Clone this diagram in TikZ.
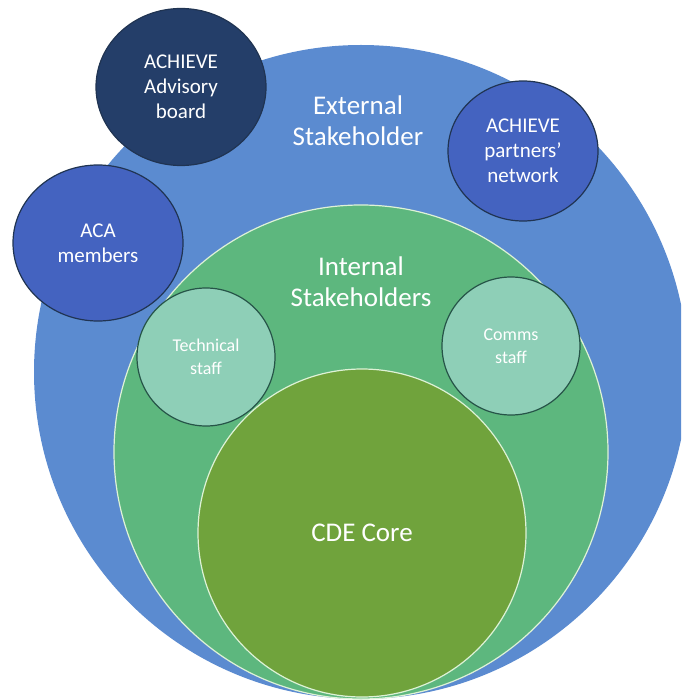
\documentclass[tikz,border=0pt]{standalone}
\usepackage{fontspec}
\setmainfont{Carlito}
\usetikzlibrary{shapes.geometric}

\definecolor{outerblue}{RGB}{91,139,208}
\definecolor{navy}{RGB}{36,62,105}
\definecolor{midblue}{RGB}{68,99,192}
\definecolor{innergreen}{RGB}{93,183,126}
\definecolor{coregreen}{RGB}{112,163,60}
\definecolor{paleteal}{RGB}{142,207,183}
\definecolor{darkrim}{RGB}{32,52,82}
\definecolor{tealrim}{RGB}{38,84,72}
\definecolor{lightrim}{RGB}{222,242,214}

\tikzset{
  ring/.style={circle, inner sep=0pt, line width=1.2pt},
  bubble/.style={ellipse, inner sep=0pt, draw=darkrim, line width=1.2pt,
    text=white, align=center, font=\fontsize{21}{25}\selectfont},
  staffbubble/.style={circle, inner sep=0pt, draw=tealrim, line width=1.2pt,
    fill=paleteal, text=white, align=center, font=\fontsize{18}{23}\selectfont},
  biglabel/.style={text=white, align=center, font=\fontsize{27}{31}\selectfont}
}

\begin{document}
\begin{tikzpicture}[x=1pt, y=-1pt]
    \useasboundingbox (0,0) rectangle (681,700);
    \fill[white] (0,0) rectangle (681,700);
    \clip (0,0) rectangle (681,700);

    % Outer ring: external stakeholders
    \node[ring, fill=outerblue, minimum size=654pt] (external) at (361,372) {};
    \node[biglabel] (externallabel) at (358,121) {External\\Stakeholder};

    % Middle ring: internal stakeholders
    \node[ring, fill=innergreen, draw=lightrim, minimum size=494pt] (internal) at (361,452) {};
    \node[biglabel] (internallabel) at (361,282) {Internal\\Stakeholders};

    % Core
    \node[ring, fill=coregreen, draw=lightrim, minimum size=328pt,
          biglabel] (core) at (362,533) {CDE Core};

    % External groups
    \node[bubble, fill=navy, minimum width=170pt, minimum height=157pt]
        (advisory) at (181,87) {ACHIEVE\\Advisory\\board};
    \node[bubble, fill=midblue, minimum width=170pt, minimum height=156pt]
        (aca) at (98,243) {ACA\\members};
    \node[bubble, fill=midblue, minimum width=150pt, minimum height=140pt]
        (partners) at (523,151) {ACHIEVE\\partners'\\network};

    % Internal groups
    \node[staffbubble, minimum size=138pt] (technical) at (206,357) {Technical\\staff};
    \node[staffbubble, minimum size=138pt] (comms) at (511,346) {Comms\\staff};
\end{tikzpicture}
\end{document}
